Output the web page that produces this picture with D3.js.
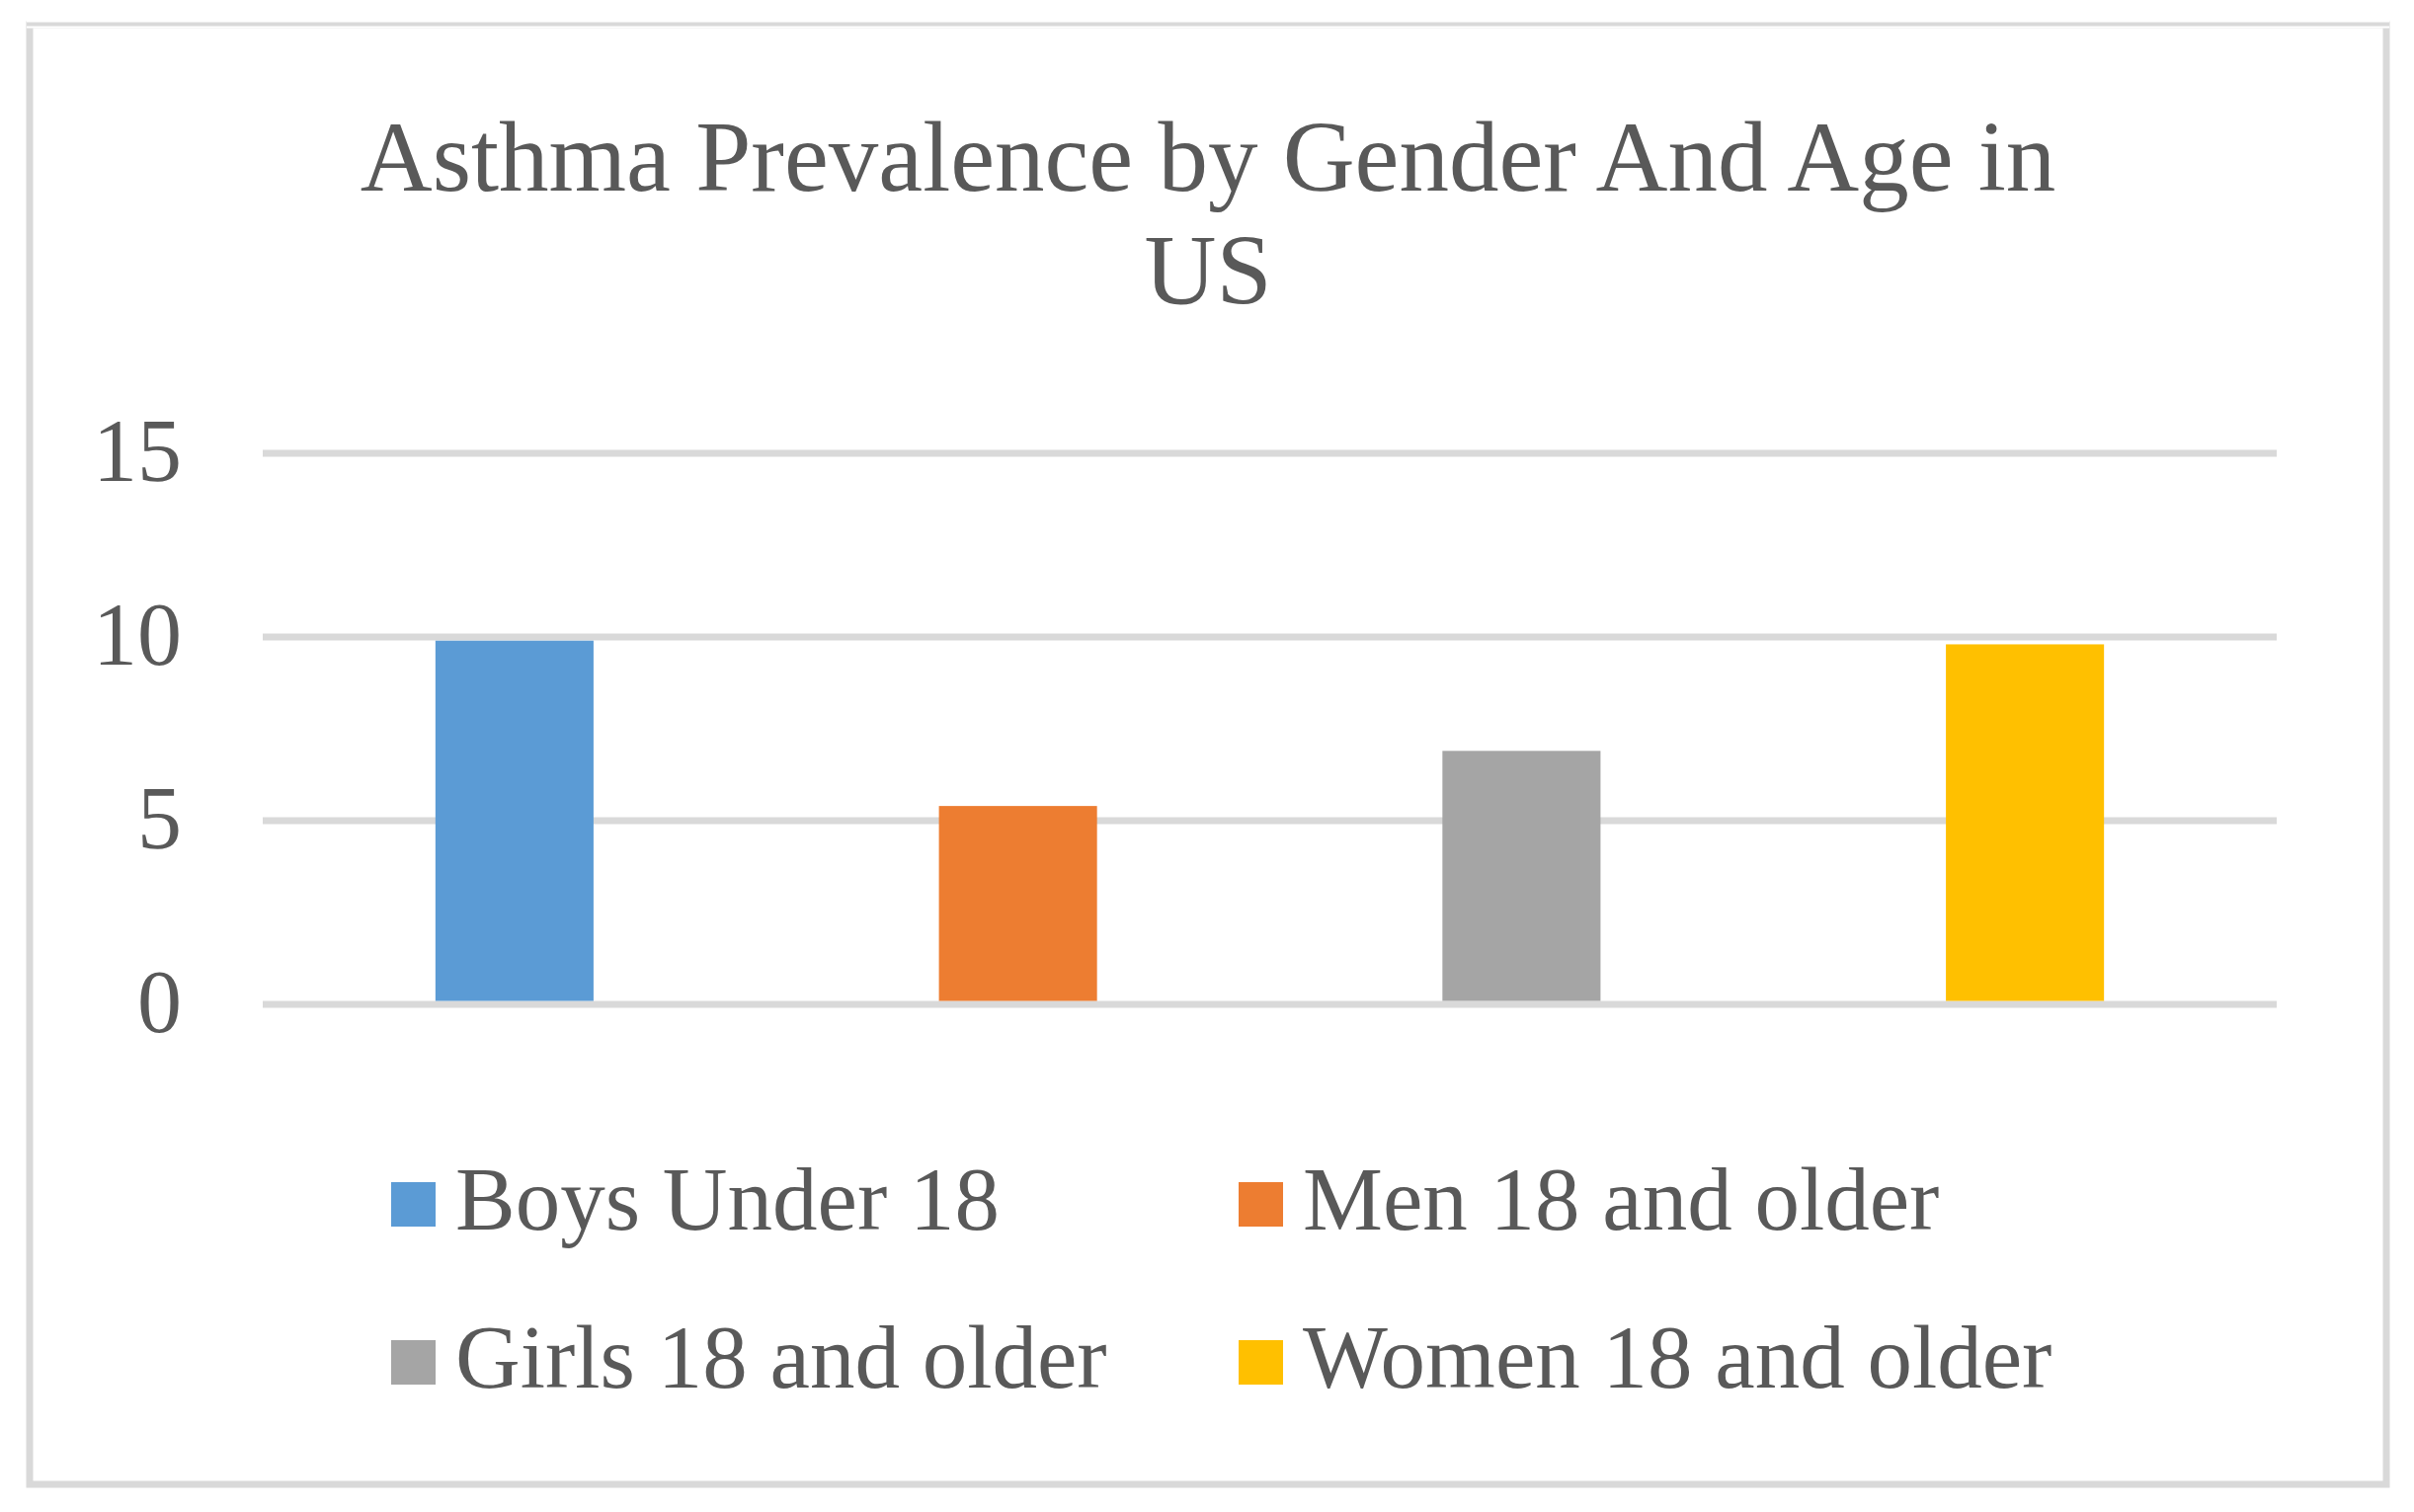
<!DOCTYPE html>
<html>
<head>
<meta charset="utf-8">
<script src="https://cdn.jsdelivr.net/npm/d3@7"></script>
<style>
  body { margin: 0; background: #fff; }
  svg text { font-family: "Liberation Serif", "Times New Roman", serif; fill: #595959; }
</style>
</head>
<body>
<svg width="2444" height="1531"></svg>
<script>
// chart data
const categories = ["Boys Under 18", "Men 18 and older", "Girls 18 and older", "Women 18 and older"];
const values = [9.9, 5.4, 6.9, 9.8];
const colors = ["#5B9BD5", "#ED7D31", "#A5A5A5", "#FFC000"];
const yTicks = [0, 5, 10, 15];
const titleLines = ["Asthma Prevalence by Gender And Age in", "US"];

const svg = d3.select("svg");
const grid = "#D9D9D9";

// outer frame
svg.append("rect")
    .attr("x", 30).attr("y", 25)
    .attr("width", 2386).attr("height", 1478)
    .attr("fill", "#fff")
    .attr("stroke", grid)
    .attr("stroke-width", 7);
svg.append("line")
    .attr("x1", 27).attr("x2", 2419).attr("y1", 24.5).attr("y2", 24.5)
    .attr("stroke", "#fff").attr("stroke-width", 8);
svg.append("line")
    .attr("x1", 27).attr("x2", 2419).attr("y1", 24.5).attr("y2", 24.5)
    .attr("stroke", grid).attr("stroke-width", 4);

// title
svg.append("text")
    .attr("text-anchor", "middle")
    .style("font-size", "101px")
    .selectAll("tspan")
    .data(titleLines)
    .join("tspan")
    .attr("x", 1223)
    .attr("y", (d, i) => 193 + i * 115)
    .text(d => d);

// scales
const x = d3.scaleBand()
    .domain(categories)
    .range([266, 2305])
    .paddingInner(0.686)
    .paddingOuter(0.343);

const y = d3.scaleLinear()
    .domain([0, 15])
    .range([1017, 459]);

// gridlines
const g = svg.append("g");
g.selectAll("line.grid")
    .data(yTicks)
    .join("line")
    .attr("class", "grid")
    .attr("x1", 266).attr("x2", 2305)
    .attr("y1", d => y(d)).attr("y2", d => y(d))
    .attr("stroke", grid)
    .attr("stroke-width", 7);

// y labels via axis
const yAxis = svg.append("g")
    .attr("transform", "translate(184,0)")
    .call(d3.axisLeft(y).tickValues(yTicks).tickSize(0).tickPadding(0));
yAxis.select(".domain").remove();
yAxis.selectAll("text")
    .attr("dy", "0.3em")
    .style("font-size", "90px")
    .style("font-family", "'Liberation Serif', 'Times New Roman', serif")
    .attr("fill", "#595959");

// bars
svg.append("g")
    .selectAll("rect")
    .data(values)
    .join("rect")
    .attr("x", (d, i) => x(categories[i]))
    .attr("width", x.bandwidth())
    .attr("y", d => y(d))
    .attr("height", d => y(0) - 3.5 - y(d))
    .attr("fill", (d, i) => colors[i]);

// legend
const legendCols = [396, 1254];
const legendRows = [1245, 1405];
const legend = svg.append("g")
    .selectAll("g")
    .data(categories)
    .join("g")
    .attr("transform", (d, i) => `translate(${legendCols[i % 2]},${legendRows[Math.floor(i / 2)]})`);
legend.append("rect")
    .attr("x", 0).attr("y", -48)
    .attr("width", 45).attr("height", 45)
    .attr("fill", (d, i) => colors[i]);
legend.append("text")
    .attr("x", 65)
    .style("font-size", "91px")
    .text(d => d);
</script>
</body>
</html>
